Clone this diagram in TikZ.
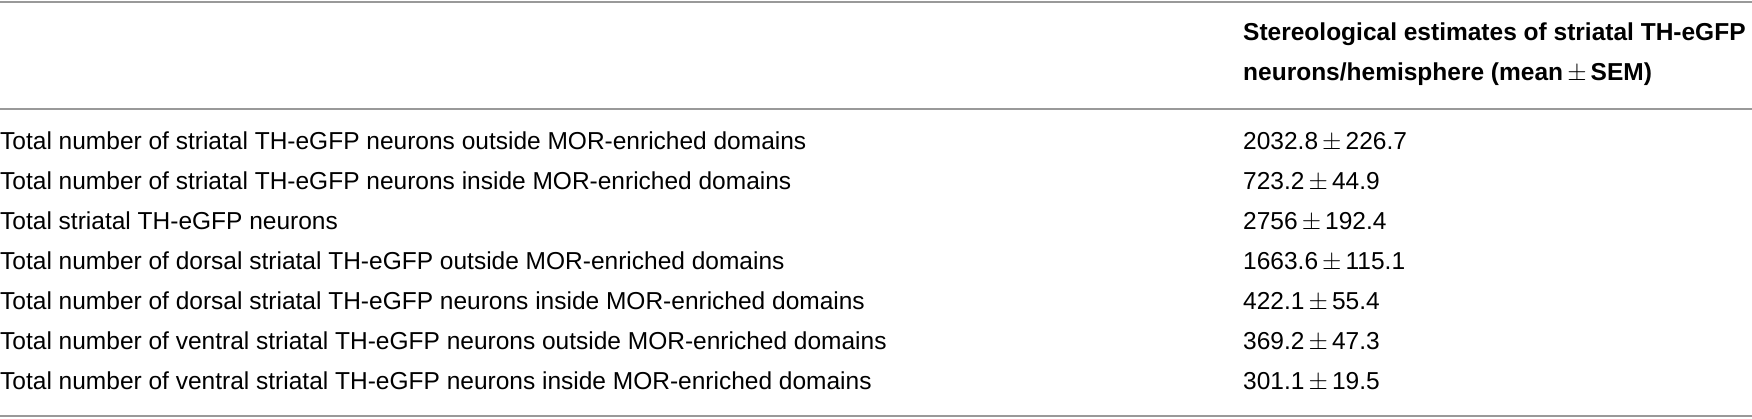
\documentclass[tikz,border=0pt]{standalone}
\usepackage{fontspec}
\setmainfont{Liberation Sans}
\tikzset{
  cell/.style = {anchor=base west, inner sep=0pt, font=\fontsize{24.5}{28}\selectfont},
  headcell/.style = {cell, font=\fontsize{24.5}{28}\selectfont\bfseries},
  tablerule/.style = {draw=gray!80, line width=1.6pt},
}
\begin{document}
\begin{tikzpicture}[x=1pt,y=-1pt]
  \useasboundingbox (0,0) rectangle (1752,418);
  \coordinate (topl) at (0,2);   \coordinate (topr) at (1752,2);
  \coordinate (midl) at (0,109); \coordinate (midr) at (1752,109);
  \coordinate (botl) at (0,416); \coordinate (botr) at (1752,416);
  \draw [tablerule] (topl) -- (topr);
  \draw [tablerule] (midl) -- (midr);
  \draw [tablerule] (botl) -- (botr);

  \node[headcell] (head1) at (1243,40) {Stereological estimates of striatal TH-eGFP};
  \node[headcell] (head2) at (1243,80) {neurons/hemisphere (mean\,$\pm$\,SEM)};

  \foreach \label/\value [count=\i] in {
      Total number of striatal TH-eGFP neurons outside MOR-enriched domains/2032.8\,$\pm$\,226.7,
      Total number of striatal TH-eGFP neurons inside MOR-enriched domains/723.2\,$\pm$\,44.9,
      Total striatal TH-eGFP neurons/2756\,$\pm$\,192.4,
      Total number of dorsal striatal TH-eGFP outside MOR-enriched domains/1663.6\,$\pm$\,115.1,
      Total number of dorsal striatal TH-eGFP neurons inside MOR-enriched domains/422.1\,$\pm$\,55.4,
      Total number of ventral striatal TH-eGFP neurons outside MOR-enriched domains/369.2\,$\pm$\,47.3,
      Total number of ventral striatal TH-eGFP neurons inside MOR-enriched domains/301.1\,$\pm$\,19.5} {
    \node[cell] (row\i) at (0,109+40*\i) {\label};
    \node[cell] (val\i) at (1243,109+40*\i) {\value};
  }
\end{tikzpicture}
\end{document}
